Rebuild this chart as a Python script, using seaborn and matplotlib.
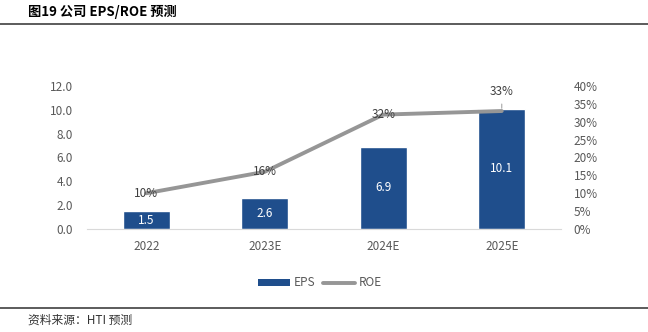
import matplotlib
matplotlib.use("Agg")
import matplotlib.pyplot as plt
import seaborn as sns
import pandas as pd
from matplotlib.lines import Line2D
from matplotlib.patches import Patch

years = ["2022", "2023E", "2024E", "2025E"]
eps = [1.5, 2.6, 6.9, 10.1]
roe = [0.10, 0.16, 0.32, 0.33]
eps_labels = ["1.5", "2.6", "6.9", "10.1"]
roe_labels = ["10%", "16%", "32%", "33%"]

sns.set_style("white")
plt.rcParams['font.family'] = ['Noto Sans CJK SC', 'DejaVu Sans']

W, H = 648, 332
fig = plt.figure(figsize=(W/100, H/100), dpi=100)
ax = fig.add_axes([87/W, 1-229/H, (561-87)/W, (229-86)/H])

df = pd.DataFrame({"year": years, "eps": eps, "roe": roe})
bar_color = "#1F4E8C"
line_color = "#969696"
sns.barplot(data=df, x="year", y="eps", color=bar_color, width=0.40, ax=ax, saturation=1)
ax.set_ylim(0, 12)
ax.set_yticks([0, 2, 4, 6, 8, 10, 12])
ax.set_yticklabels([f"{v:.1f}" for v in [0, 2, 4, 6, 8, 10, 12]])
ax.set_xlabel("")
ax.set_ylabel("")
for s in ["top", "right", "left"]:
    ax.spines[s].set_visible(False)
ax.spines["bottom"].set_color("#d9d9d9")
ax.tick_params(axis="both", length=0, colors="#595959", labelsize=8.5)
ax.tick_params(axis="x", pad=8)
ax.tick_params(axis="y", pad=10)
for i, (v, t) in enumerate(zip(eps, eps_labels)):
    ax.text(i, v/2, t, ha="center", va="center", color="white", fontsize=8.5)

ax2 = ax.twinx()
sns.lineplot(x=list(range(len(years))), y=roe, color=line_color, linewidth=2.8, ax=ax2, legend=False)
ax2.set_ylim(0, 0.40)
ax2.set_yticks([i*0.05 for i in range(9)])
ax2.set_yticklabels([f"{i*5}%" for i in range(9)])
ax2.set_ylabel("")
for s in ["top", "right", "left", "bottom"]:
    ax2.spines[s].set_visible(False)
ax2.tick_params(axis="y", length=0, colors="#595959", labelsize=8.5, pad=9)
for i, (v, t) in enumerate(zip(roe, roe_labels)):
    if i == len(roe) - 1:
        ax2.annotate(t, xy=(i, v), xytext=(0, 14), textcoords="offset points",
                     ha="center", va="center", color="#404040", fontsize=8.5)
        ax2.annotate("", xy=(i, v), xytext=(0, 7), textcoords="offset points",
                     arrowprops=dict(arrowstyle="-", color="#a6a6a6", lw=0.8))
    else:
        ax2.text(i, v, t, ha="center", va="center", color="#404040", fontsize=8.5)
ax.set_xlim(-0.5, 3.5)

handles = [Patch(facecolor=bar_color, edgecolor="none"),
           Line2D([0], [0], color=line_color, linewidth=2.8)]
fig.legend(handles, ["EPS", "ROE"], loc="center", bbox_to_anchor=(320/W, 1-283/H),
           ncol=2, frameon=False, fontsize=8.5, labelcolor="#595959",
           handlelength=2.7, handleheight=0.6, columnspacing=0.7, handletextpad=0.3)

fig.text(28/W, 1-12/H, "图19 公司 EPS/ROE 预测", fontsize=9.5, fontweight="bold",
         ha="left", va="center", color="black")
fig.add_artist(Line2D([0, 1], [1-24/H, 1-24/H], color="#404040", linewidth=1.2))
fig.add_artist(Line2D([0, 1], [1-308/H, 1-308/H], color="#404040", linewidth=1.2))
fig.text(28/W, 1-320/H, "资料来源：HTI 预测", fontsize=8.5, ha="left", va="center", color="#333333")

fig.savefig("out.png", dpi=100)
